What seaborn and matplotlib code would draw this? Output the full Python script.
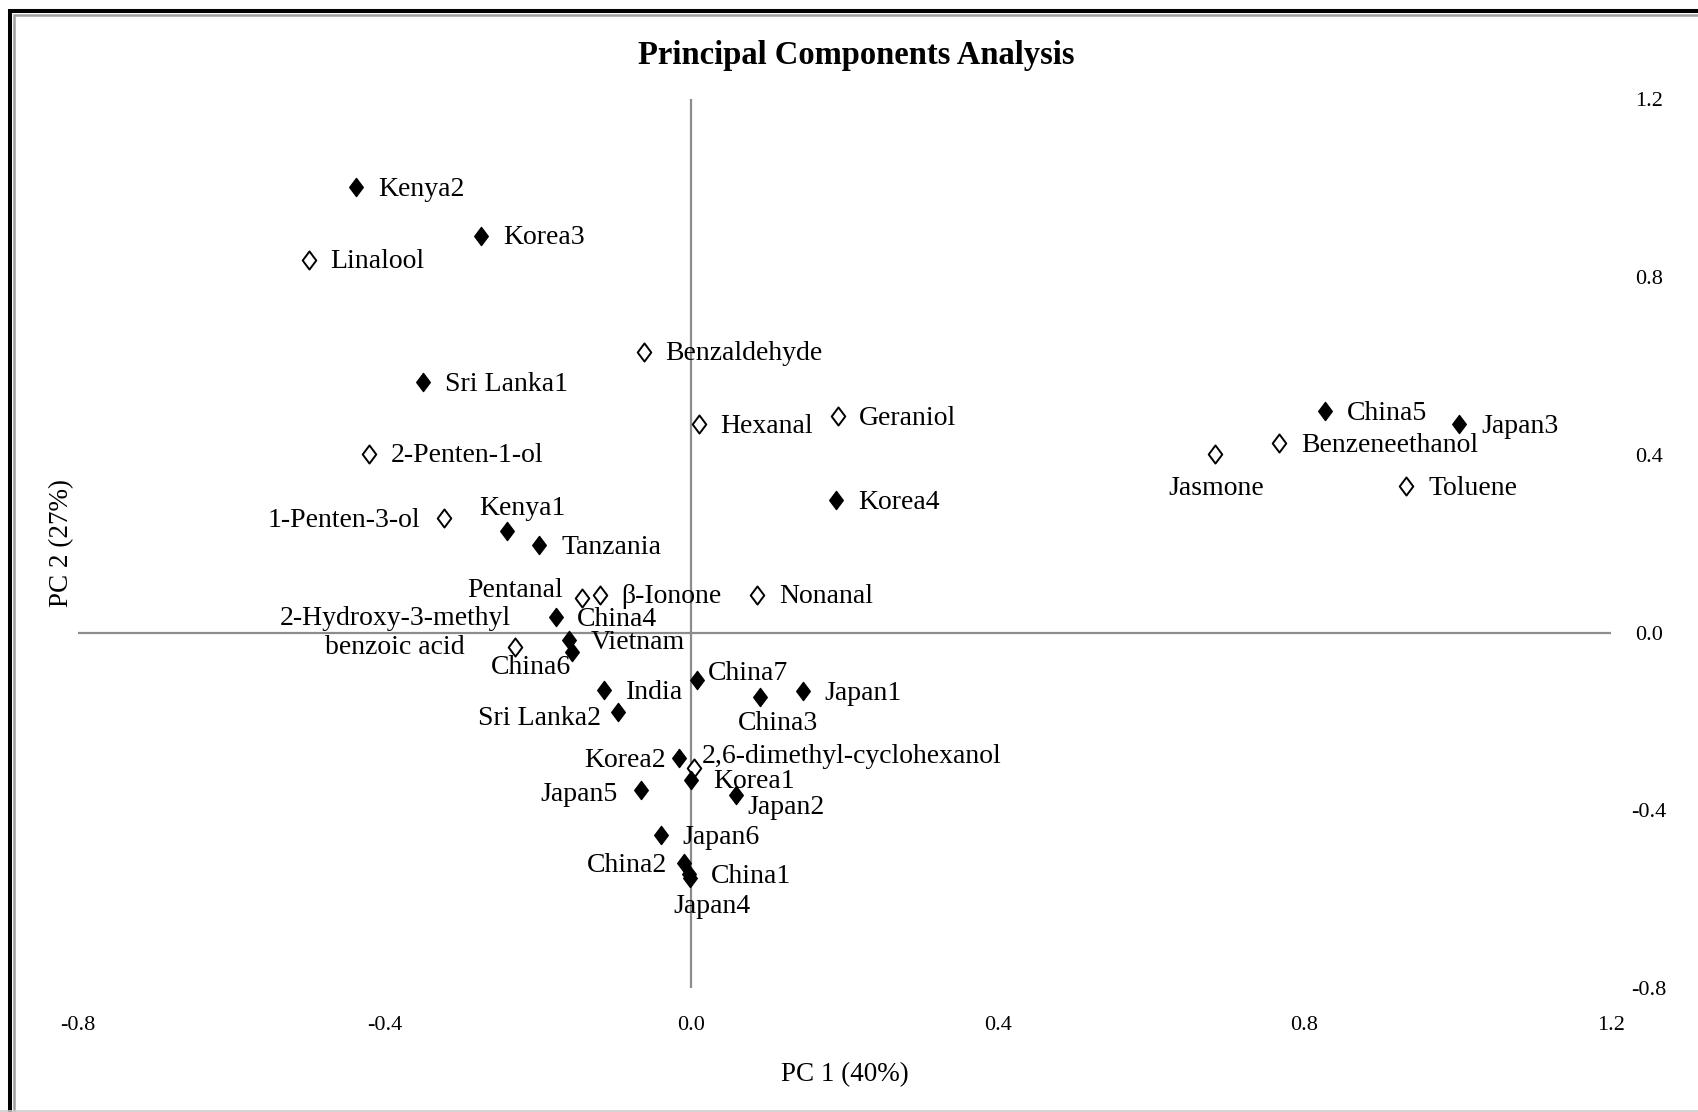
import matplotlib
matplotlib.use("Agg")
import matplotlib.pyplot as plt
from matplotlib.path import Path
from matplotlib.lines import Line2D
import pandas as pd
import seaborn as sns

# tea samples (filled diamonds)
sample_names = ["Kenya2", "Korea3", "Sri Lanka1", "Kenya1", "Tanzania", "China4",
                "Vietnam", "China6", "India", "Sri Lanka2", "China7", "China3",
                "Japan1", "Korea2", "Korea1", "Japan2", "Japan5", "Japan6",
                "China2", "China1", "Japan4", "Korea4", "China5", "Japan3"]
sample_pc1 = [-0.437, -0.274, -0.350, -0.240, -0.198, -0.177,
              -0.160, -0.155, -0.114, -0.095, 0.008, 0.090,
              0.146, -0.016, 0.000, 0.059, -0.065, -0.040,
              -0.010, -0.003, -0.001, 0.189, 0.827, 1.002]
sample_pc2 = [1.001, 0.892, 0.563, 0.229, 0.197, 0.034,
              -0.017, -0.044, -0.129, -0.178, -0.107, -0.144,
              -0.132, -0.283, -0.331, -0.365, -0.353, -0.456,
              -0.519, -0.543, -0.551, 0.297, 0.497, 0.468]

# volatile compounds (open diamonds)
compound_names = ["Linalool", "Benzaldehyde", "Hexanal", "Geraniol", "2-Penten-1-ol",
                  "1-Penten-3-ol", "Pentanal", "β-Ionone", "Nonanal",
                  "2-Hydroxy-3-methyl\nbenzoic acid", "2,6-dimethyl-cyclohexanol",
                  "Jasmone", "Benzeneethanol", "Toluene"]
compound_pc1 = [-0.499, -0.062, 0.010, 0.191, -0.420,
                -0.322, -0.143, -0.119, 0.086,
                -0.230, 0.003,
                0.683, 0.767, 0.933]
compound_pc2 = [0.838, 0.631, 0.468, 0.487, 0.402,
                0.258, 0.078, 0.085, 0.085,
                -0.032, -0.305,
                0.402, 0.426, 0.329]

# label placement: (dx, dy, ha) in reference pixels, dy positive = up
R = (20, -2, "left")
label_pos = {
    "1-Penten-3-ol": (-22, -3, "right"),
    "Kenya1": (14, 20, "center"),
    "Pentanal": (-17, 7, "right"),
    "2-Hydroxy-3-methyl\nbenzoic acid": (-4, 13, "right"),
    "China6": (-38, -14, "center"),
    "Sri Lanka2": (-16, -6, "right"),
    "China7": (10, 6, "left"),
    "China3": (16, -25, "center"),
    "Korea2": (-12, -2, "right"),
    "2,6-dimethyl-cyclohexanol": (8, 11, "left"),
    "Japan2": (10, -12, "left"),
    "Japan5": (-22, -5, "right"),
    "China2": (-15, -2, "right"),
    "Japan4": (20, -27, "center"),
    "Jasmone": (1, -32, "center"),
}

sns.set_theme(style="white")
plt.rcParams["font.family"] = ["Liberation Serif", "DejaVu Serif"]
plt.rcParams["text.color"] = "black"
plt.rcParams["xtick.color"] = "black"
plt.rcParams["ytick.color"] = "black"
plt.rcParams["axes.labelcolor"] = "black"

samples = pd.DataFrame({"name": sample_names, "pc1": sample_pc1, "pc2": sample_pc2})
compounds = pd.DataFrame({"name": compound_names, "pc1": compound_pc1, "pc2": compound_pc2})

diamond = Path([(0, 1), (0.75, 0), (0, -1), (-0.75, 0), (0, 1)],
               [Path.MOVETO, Path.LINETO, Path.LINETO, Path.LINETO, Path.CLOSEPOLY])

fig = plt.figure(figsize=(16.99, 11.12), dpi=100)
ax = fig.add_axes([0.0459, 0.1111, 0.9024, 0.8002])

ax.axhline(0, color="#8c8c8c", lw=1.6, zorder=1)
ax.axvline(0, color="#8c8c8c", lw=1.6, zorder=1)

sns.scatterplot(data=compounds, x="pc1", y="pc2", marker=diamond, s=170,
                color="white", edgecolor="black", linewidth=1.4, ax=ax, zorder=3)
sns.scatterplot(data=samples, x="pc1", y="pc2", marker=diamond, s=170,
                color="black", edgecolor="black", linewidth=1.0, ax=ax, zorder=4)

k = 0.78  # reference px -> points
for df in (compounds, samples):
    for name, x, y in zip(df["name"], df["pc1"], df["pc2"]):
        dx, dy, ha = label_pos.get(name, R)
        ax.annotate(name, (x, y), xytext=(dx * k, dy * k), textcoords="offset points",
                    ha=ha, va="center", multialignment="center", fontsize=20, zorder=5)

ax.set_xlim(-0.8, 1.2)
ax.set_ylim(-0.8, 1.2)
ticks = [-0.8, -0.4, 0.0, 0.4, 0.8, 1.2]
ax.set_xticks(ticks)
ax.set_yticks(ticks)
ax.set_xticklabels([f"{t:.1f}" for t in ticks])
ax.set_yticklabels([f"{t:.1f}" for t in ticks])
ax.yaxis.tick_right()
ax.tick_params(axis="both", length=0, labelsize=16)
ax.tick_params(axis="x", pad=20)
for lab in ax.get_yticklabels():
    lab.set_horizontalalignment("center")
ax.tick_params(axis="y", pad=27)
for s in ax.spines.values():
    s.set_visible(False)

ax.set_xlabel("PC 1 (40%)", fontsize=19.5, labelpad=19)
ax.set_ylabel("")
fig.text(0.036, 0.512, "PC 2 (27%)", rotation=90, ha="center", va="center", fontsize=19.5)
fig.text(0.504, 0.950, "Principal Components Analysis", ha="center", va="center",
         fontsize=23.5, fontweight="bold")

# Excel-style frame: black + grey lines on left/top, faint line at bottom
fig.lines.append(Line2D([0.0059, 0.0059, 1.0], [0.0, 0.9901, 0.9901],
                        transform=fig.transFigure, color="black", lw=2.9,
                        solid_joinstyle="miter"))
fig.lines.append(Line2D([0.0085, 0.0085, 1.0], [0.0, 0.9865, 0.9865],
                        transform=fig.transFigure, color="#a0a0a0", lw=1.8,
                        solid_joinstyle="miter"))
fig.lines.append(Line2D([0.0, 1.0], [0.0006, 0.0006], transform=fig.transFigure,
                        color="#cccccc", lw=1.2))

fig.savefig("out.png", dpi=100)
